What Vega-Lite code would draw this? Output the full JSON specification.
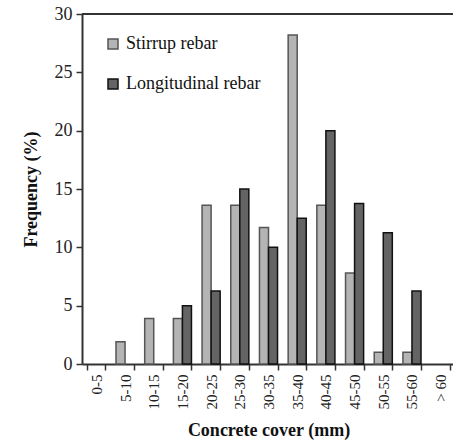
{
  "$schema": "https://vega.github.io/schema/vega-lite/v6.json",
  "autosize": {"type": "none"},
  "padding": {"left": 82, "top": 14, "right": 0, "bottom": 81},
  "width": 373,
  "height": 350,
  "background": "white",
  "config": {
    "font": "Liberation Serif",
    "view": {"stroke": null},
    "axis": {"domainColor": "#333", "domainWidth": 2, "tickColor": "#333", "tickWidth": 1.5, "labelColor": "#222", "titleColor": "#111", "labelFont": "Liberation Serif", "titleFont": "Liberation Serif", "grid": false}
  },
  "data": {"values": [
    {"cover": "5-10", "type": "Stirrup rebar", "freq": 1.9},
    {"cover": "10-15", "type": "Stirrup rebar", "freq": 3.9},
    {"cover": "15-20", "type": "Stirrup rebar", "freq": 3.9},
    {"cover": "15-20", "type": "Longitudinal rebar", "freq": 5.0},
    {"cover": "20-25", "type": "Stirrup rebar", "freq": 13.6},
    {"cover": "20-25", "type": "Longitudinal rebar", "freq": 6.25},
    {"cover": "25-30", "type": "Stirrup rebar", "freq": 13.6},
    {"cover": "25-30", "type": "Longitudinal rebar", "freq": 15.0},
    {"cover": "30-35", "type": "Stirrup rebar", "freq": 11.7},
    {"cover": "30-35", "type": "Longitudinal rebar", "freq": 10.0},
    {"cover": "35-40", "type": "Stirrup rebar", "freq": 28.2},
    {"cover": "35-40", "type": "Longitudinal rebar", "freq": 12.5},
    {"cover": "40-45", "type": "Stirrup rebar", "freq": 13.6},
    {"cover": "40-45", "type": "Longitudinal rebar", "freq": 20.0},
    {"cover": "45-50", "type": "Stirrup rebar", "freq": 7.8},
    {"cover": "45-50", "type": "Longitudinal rebar", "freq": 13.75},
    {"cover": "50-55", "type": "Stirrup rebar", "freq": 1.0},
    {"cover": "50-55", "type": "Longitudinal rebar", "freq": 11.25},
    {"cover": "55-60", "type": "Stirrup rebar", "freq": 1.0},
    {"cover": "55-60", "type": "Longitudinal rebar", "freq": 6.25}
  ]},
  "layer": [
    {
      "mark": {"type": "bar", "strokeWidth": 1.5},
      "encoding": {
        "x": {
          "field": "cover", "type": "nominal",
          "scale": {"domain": ["0-5","5-10","10-15","15-20","20-25","25-30","30-35","35-40","40-45","45-50","50-55","55-60","> 60"], "paddingInner": 0.37, "paddingOuter": 0.185},
          "axis": {"title": "Concrete cover (mm)", "titleFontSize": 18, "titleFontWeight": "bold", "titlePadding": 13, "labelAngle": -90, "labelFontSize": 15, "labelPadding": 4, "tickBand": "extent", "tickSize": 6}
        },
        "xOffset": {"field": "type", "type": "nominal", "scale": {"domain": ["Stirrup rebar", "Longitudinal rebar"], "paddingInner": 0}},
        "y": {
          "field": "freq", "type": "quantitative",
          "scale": {"domain": [0, 30], "nice": false},
          "axis": {"title": "Frequency (%)", "titleFontSize": 18, "titleFontWeight": "bold", "titlePadding": 14, "values": [0,5,10,15,20,25,30], "labelFontSize": 18, "labelPadding": 4, "tickSize": 6}
        },
        "fill": {
          "field": "type", "type": "nominal",
          "scale": {"domain": ["Stirrup rebar", "Longitudinal rebar"], "range": ["#b4b4b4", "#646464"]},
          "legend": {"title": null, "orient": "none", "legendX": 22, "legendY": 21, "symbolType": "square", "symbolSize": 100, "symbolStrokeColor": "#222", "symbolStrokeWidth": 1.5, "labelFontSize": 18, "labelColor": "#111", "rowPadding": 22, "labelOffset": 4}
        },
        "stroke": {
          "field": "type", "type": "nominal",
          "scale": {"domain": ["Stirrup rebar", "Longitudinal rebar"], "range": ["#555555", "#111111"]},
          "legend": null
        }
      }
    },
    {
      "mark": {"type": "rule", "color": "#333", "strokeWidth": 2},
      "encoding": {"y": {"datum": 30}}
    }
  ]
}
